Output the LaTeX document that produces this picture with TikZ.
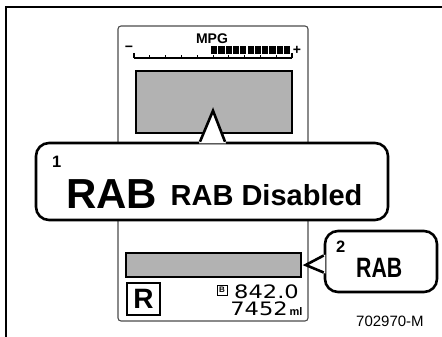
\documentclass[tikz,border=0pt]{standalone}
\usepackage{fontspec}
\setmainfont{Liberation Sans}
\newfontfamily\lcdfont{DejaVu Sans}
\usepackage{graphicx}
\usetikzlibrary{calc}
\definecolor{screengray}{RGB}{178,178,178}
% font size given in pixels (1pt = 1px here)
\newcommand{\pxfont}[1]{\fontsize{#1}{#1}\selectfont}

\begin{document}
\begin{tikzpicture}[
  x=1pt, y=-1pt,
  panel/.style={draw=black!70, line width=1.1pt, rounded corners=3pt, inner sep=0pt},
  screen/.style={draw=black, line width=1.4pt, fill=screengray, inner sep=0pt},
  callout/.style={draw=black, line width=2.6pt, fill=white, rounded corners=13pt, inner sep=0pt},
  calline/.style={black, line width=2.6pt, line join=miter},
  lbl/.style={inner sep=0pt, anchor=base west},
]
\useasboundingbox (0,0) rectangle (442,337);

% Page frame
\draw[line width=2pt] (6,337) -- (6,7) -- (442,7);

% Display panel
\node[panel, minimum width=190, minimum height=295] (disp) at (213,173.5) {};

% MPG gauge
\node[inner sep=0pt, anchor=base, font=\bfseries\pxfont{14}] (mpg) at (212,44) {MPG};
\node[inner sep=0pt, font=\bfseries\pxfont{14}] (minus) at (129,49) {−};
\node[inner sep=0pt, font=\bfseries\pxfont{14}] (plus) at (297,50) {+};
\draw[line width=1.2pt] (134,58) -- (292,58);
\draw[line width=1.2pt] (134,53) -- (134,58) (292,53) -- (292,58);
\foreach \i in {1,...,9}
  \draw[line width=1pt] (134+\i*15.8,58) -- ++(0,-2.5);
\foreach \i in {0,...,10}
  \fill (211+\i*7.3,46) rectangle ++(6.2,8);

% Upper screen
\node[screen, minimum width=156, minimum height=62] (upscr) at (214,102) {};

% Callout 1
\node[callout, minimum width=352, minimum height=77] (call1) at (212,181.5) {};
\coordinate (tip1) at ($(upscr.south)+(-1,-23)$);
\fill[white] ($(call1.north)+(-13,1.6)$) -- (tip1) -- ($(call1.north)+(14,1.6)$) -- cycle;
\draw[calline] ($(call1.north)+(-12,0)$) -- (tip1) -- ($(call1.north)+(13,0)$);
\node[lbl, font=\bfseries\pxfont{16.5}] (num1) at (52,167) {1};
\node[lbl, font=\bfseries\pxfont{42}] (bigrab) at (66,208) {RAB};
\node[lbl, font=\bfseries\pxfont{29}] (rabdis) at (170.5,205) {RAB Disabled};

% Lower bar
\node[screen, minimum width=175, minimum height=24] (lowbar) at (213.5,265) {};

% Callout 2
\node[callout, minimum width=112, minimum height=61] (call2) at (381,261.5) {};
\coordinate (tip2) at ($(lowbar.east)+(4,0)$);
\fill[white] ($(call2.west)+(1.6,-7)$) -- (tip2) -- ($(call2.west)+(1.6,12)$) -- cycle;
\draw[calline] ($(call2.west)+(0,-6)$) -- (tip2) -- ($(call2.west)+(0,11)$);
\node[lbl, font=\bfseries\pxfont{16.5}] (num2) at (336,252) {2};
\node[lbl, font=\bfseries\pxfont{28}] (smallrab) at (356,277) {\scalebox{0.76}[1]{RAB}};

% Gear and odometer
\node[draw, line width=1.2pt, minimum width=33, minimum height=32, inner sep=0pt,
  font=\bfseries\pxfont{28}] (gear) at (143.5,299) {R};
\node[draw, line width=0.9pt, minimum width=10, minimum height=10, inner sep=0pt,
  font=\bfseries\pxfont{8}] (bicon) at (222,290) {B};
\node[inner sep=0pt, anchor=base east, font=\lcdfont\pxfont{18.5}] (odo) at (299,298) {\scalebox{1.22}[1]{842.0}};
\node[inner sep=0pt, anchor=base east, font=\lcdfont\pxfont{18.5}] (trip) at (288,315) {\scalebox{1.22}[1]{7452}};
\node[lbl, font=\bfseries\pxfont{11}] (unit) at (289.5,315) {ml};

% Figure number
\node[lbl, font=\pxfont{15}] (figid) at (356,326) {702970-M};
\end{tikzpicture}
\end{document}
